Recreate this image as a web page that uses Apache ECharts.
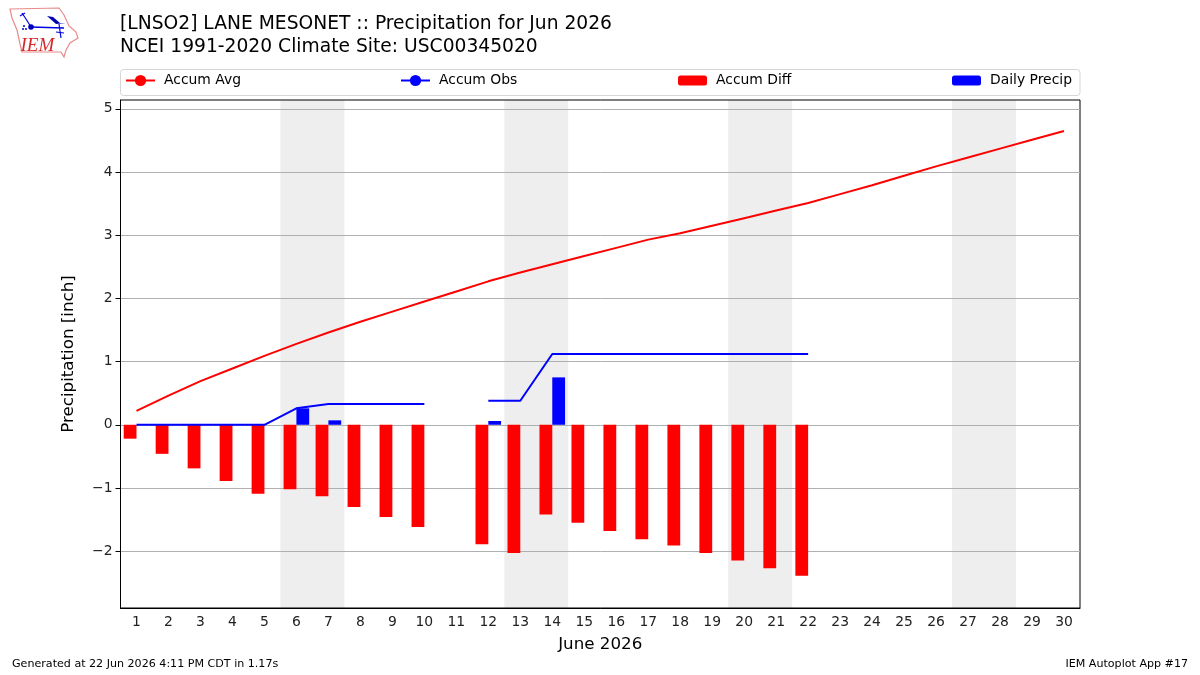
<!DOCTYPE html>
<html>
<head>
<meta charset="utf-8">
<title>LNSO2 precipitation, June 2026</title>
<script src="https://cdn.jsdelivr.net/npm/echarts@6/dist/echarts.min.js"></script>
<style>html,body{margin:0;padding:0;background:#fff}#chart{width:1200px;height:675px}</style>
</head>
<body>
<div id="chart"></div>
<script>
// Days of the month
const days = Array.from({length: 30}, (_, i) => String(i + 1));

// Accumulated climatological precipitation, inches
const accumAvg = [0.22,0.46,0.69,0.89,1.09,1.28,1.46,1.63,1.79,1.95,2.11,2.27,2.41,2.54,2.67,
  2.80,2.93,3.03,3.15,3.27,3.39,3.51,3.65,3.79,3.94,4.09,4.23,4.37,4.51,4.65];

// Accumulated observed precipitation; day 11 is missing and the month ends at day 22
const accumObs = [0,0,0,0,0,0.26,0.33,0.33,0.33,0.33,null,0.38,0.38,1.12,1.12,
  1.12,1.12,1.12,1.12,1.12,1.12,1.12,null,null,null,null,null,null,null,null];

// Observed minus climatology
const accumDiff = [-0.22,-0.46,-0.69,-0.89,-1.09,-1.02,-1.13,-1.30,-1.46,-1.62,null,-1.89,-2.03,-1.42,-1.55,
  -1.68,-1.81,-1.91,-2.03,-2.15,-2.27,-2.39,null,null,null,null,null,null,null,null];

// Daily precipitation
const dailyPrecip = [0,0,0,0,0,0.26,0.07,0,0,0,null,0.06,0,0.75,0,
  0,0,0,0,0,0,0,null,null,null,null,null,null,null,null];

// Weekend spans on the day scale
const weekends = [[5.5,7.5],[12.5,14.5],[19.5,21.5],[26.5,28.5]];

const yTicks = [-2,-1,0,1,2,3,4,5];

const FONT = '"DejaVu Sans"';
const INK = '#000';

const chart = echarts.init(document.getElementById('chart'), null, {renderer: 'canvas'});

// One legend per entry, spread along the frame above the plot
function legendEntry(name, left, height) {
  return {
    data: [name], left: left, top: 73.5, padding: 0,
    itemWidth: 29, itemHeight: height, itemGap: 0,
    textStyle: {fontFamily: FONT, fontSize: 13.9, color: INK, padding: [0, 0, 0, 4]}
  };
}

// State outline and station-model glyph of the network logo
const stateOutline = [[10,9],[59,8],[64,15],[69,26],[76,32],[78,38],[70,43],[66,50],[64,57],[61,52],[22,52],[20,44],[17,30],[12,18]];
const logo = [
  {type: 'polygon', shape: {points: stateOutline}, style: {fill: '#fff', stroke: '#e88a8a', lineWidth: 1.2}},
  {type: 'polyline', shape: {points: [[31,27],[64,28]]}, style: {fill: null, stroke: '#0000e0', lineWidth: 1.6}},
  {type: 'polyline', shape: {points: [[22,13],[26,19],[31,27]]}, style: {fill: null, stroke: '#0000e0', lineWidth: 1.2}},
  {type: 'polyline', shape: {points: [[20,16],[25,13]]}, style: {fill: null, stroke: '#0000e0', lineWidth: 1.2}},
  {type: 'circle', shape: {cx: 31, cy: 27, r: 2.8}, style: {fill: '#0000c0'}},
  {type: 'polygon', shape: {points: [[47,16],[53,17],[60,23],[66,23],[56,24]]}, style: {fill: '#0000b0'}},
  {type: 'polyline', shape: {points: [[59,24],[61,38]]}, style: {fill: null, stroke: '#0000e0', lineWidth: 1.2}},
  {type: 'polyline', shape: {points: [[56,32],[64,33]]}, style: {fill: null, stroke: '#0000e0', lineWidth: 1.2}},
  {type: 'circle', shape: {cx: 24, cy: 26, r: 1}, style: {fill: '#0000c0'}},
  {type: 'circle', shape: {cx: 26, cy: 29, r: 1}, style: {fill: '#0000c0'}},
  {type: 'circle', shape: {cx: 23, cy: 29, r: 1}, style: {fill: '#0000c0'}},
  {type: 'text', x: 20.5, y: 36, style: {text: 'IEM', fill: '#d62a2a', font: 'italic 19px "Liberation Serif"'}}
];

chart.setOption({
  animation: false,
  backgroundColor: '#fff',
  title: {
    text: '[LNSO2] LANE MESONET :: Precipitation for Jun 2026\nNCEI 1991-2020 Climate Site: USC00345020',
    left: 120, top: 13, padding: 0,
    textStyle: {fontFamily: FONT, fontSize: 18.7, fontWeight: 'normal', color: INK, lineHeight: 23}
  },
  legend: [
    legendEntry('Accum Avg', 125, 14),
    legendEntry('Accum Obs', 400, 14),
    legendEntry('Accum Diff', 678, 10),
    legendEntry('Daily Precip', 952, 10)
  ],
  grid: {left: 120.5, right: 120, top: 100, bottom: 67, show: true, borderColor: INK, borderWidth: 1, backgroundColor: 'transparent'},
  xAxis: [
    {
      type: 'category', data: days, boundaryGap: true,
      name: 'June 2026', nameLocation: 'middle', nameGap: 28,
      nameTextStyle: {fontFamily: FONT, fontSize: 16.7, color: INK},
      axisLine: {lineStyle: {color: INK, width: 1}, onZero: false},
      axisTick: {alignWithLabel: true, length: 5, lineStyle: {color: INK}},
      axisLabel: {fontFamily: FONT, fontSize: 13.9, color: '#222', margin: 7, interval: 0},
      splitLine: {show: false}
    },
    {type: 'value', min: 0.5, max: 30.5, show: false}
  ],
  yAxis: {
    type: 'value', min: -2.9, max: 5.14,
    name: 'Precipitation [inch]', nameLocation: 'middle', nameGap: 43,
    nameTextStyle: {fontFamily: FONT, fontSize: 16.7, color: INK},
    axisLine: {show: true, onZero: false, lineStyle: {color: INK, width: 1}},
    axisTick: {show: true, length: 5, lineStyle: {color: INK}, customValues: yTicks},
    axisLabel: {
      fontFamily: FONT, fontSize: 13.9, color: '#222', margin: 8, customValues: yTicks,
      formatter: v => String(v).replace('-', '\u2212')
    },
    splitLine: {show: true, lineStyle: {color: '#b0b0b0', width: 1}}
  },
  series: [
    {
      // Carries the weekend bands, underneath the grid lines
      name: 'weekends', type: 'line', xAxisIndex: 1, data: [], silent: true, symbol: 'none',
      markArea: {
        silent: true, z: -1,
        itemStyle: {color: '#eeeeee', borderWidth: 0},
        label: {show: false},
        data: weekends.map(w => [{xAxis: w[0]}, {xAxis: w[1]}])
      }
    },
    {name: 'Accum Diff', type: 'bar', data: accumDiff, barWidth: '40%', barGap: 0,
      itemStyle: {color: '#ff0000'}},
    {name: 'Daily Precip', type: 'bar', data: dailyPrecip, barWidth: '40%', barGap: 0,
      itemStyle: {color: '#0000ff'}},
    {name: 'Accum Avg', type: 'line', data: accumAvg, symbol: 'none', showSymbol: false, z: 3,
      lineStyle: {color: '#ff0000', width: 2, cap: 'butt'}, itemStyle: {color: '#ff0000'}},
    {name: 'Accum Obs', type: 'line', data: accumObs, symbol: 'none', showSymbol: false, z: 3, connectNulls: false,
      lineStyle: {color: '#0000ff', width: 2, cap: 'butt'}, itemStyle: {color: '#0000ff'}}
  ],
  graphic: [
    {type: 'rect', z: -5, shape: {x: 120.5, y: 69.5, width: 959.5, height: 26, r: 3},
      style: {fill: '#fff', stroke: '#d6d6d6', lineWidth: 1}},
    {type: 'text', left: 12, top: 659, style: {text: 'Generated at 22 Jun 2026 4:11 PM CDT in 1.17s', fill: INK, font: '11.1px "DejaVu Sans"'}},
    {type: 'text', right: 12, top: 659, style: {text: 'IEM Autoplot App #17', fill: INK, font: '11.1px "DejaVu Sans"'}},
    {type: 'group', children: logo}
  ]
});
</script>
</body>
</html>
